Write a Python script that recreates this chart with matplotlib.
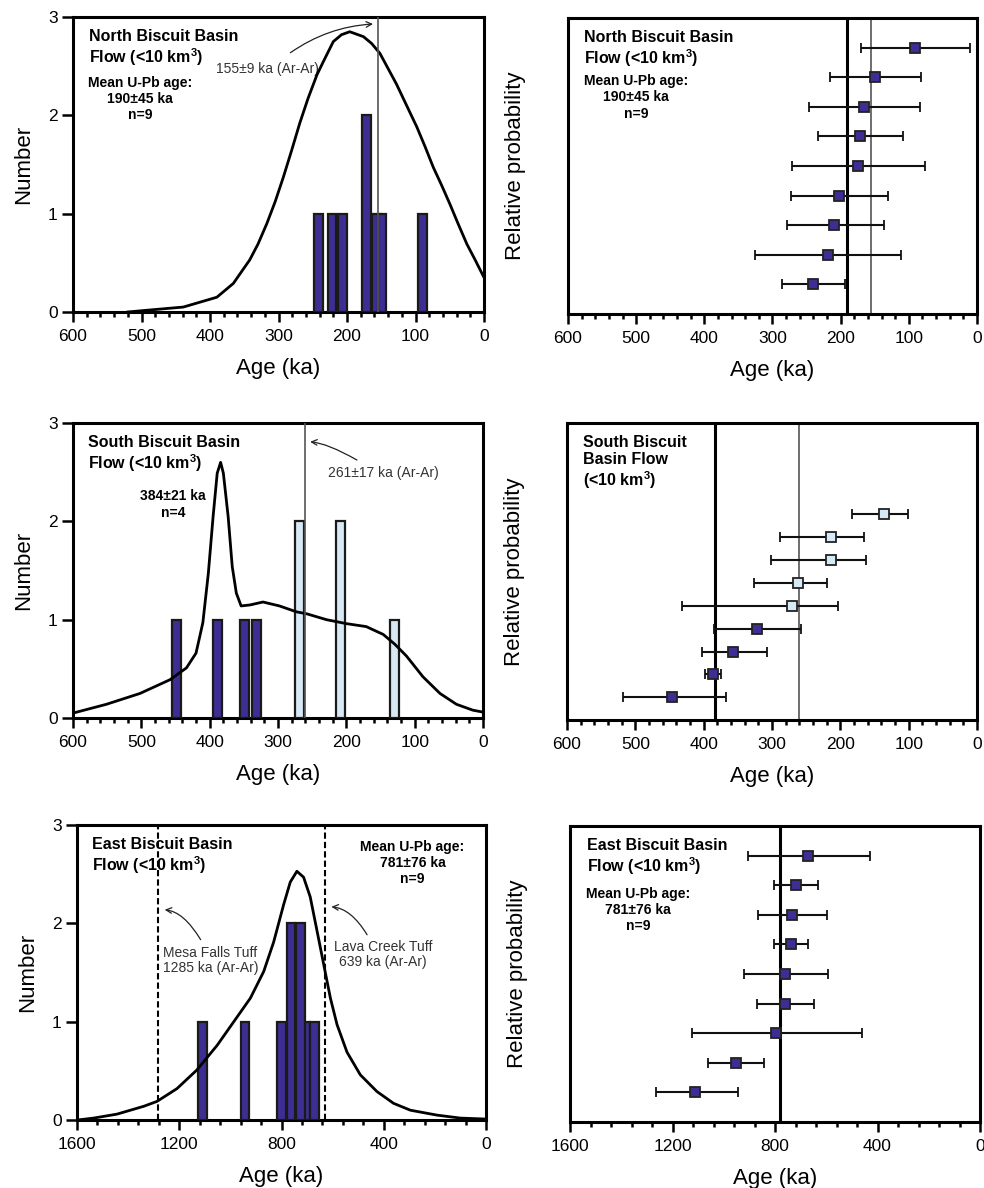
import numpy as np
import matplotlib
matplotlib.use('Agg')
import matplotlib.pyplot as plt
from matplotlib.ticker import MultipleLocator

plt.rcParams['font.family'] = ['Liberation Sans', 'DejaVu Sans']
plt.rcParams['mathtext.fontset'] = 'custom'
plt.rcParams['mathtext.rm'] = 'Liberation Sans'
plt.rcParams['mathtext.bf'] = 'Liberation Sans:bold'

# ---- North Biscuit Basin ----
north_bar_age = [242, 222, 206, 171, 157, 149, 90]
north_bar_n   = [1, 1, 1, 2, 1, 1, 1]
north_curve_age = [520, 488, 439, 390, 366, 342, 330, 317, 305, 293, 281, 269, 257, 244, 235, 220, 208,
                   196, 176, 164, 152, 128, 113, 98, 86, 74, 62, 50, 38, 25, 13, 0]
north_curve_val = [0.0, 0.02, 0.05, 0.15, 0.29, 0.53, 0.69, 0.90, 1.12, 1.37, 1.64, 1.92, 2.17, 2.41, 2.54,
                   2.75, 2.82, 2.85, 2.80, 2.73, 2.63, 2.32, 2.10, 1.88, 1.68, 1.47, 1.29, 1.10, 0.90,
                   0.69, 0.53, 0.35]
# ages top -> bottom in the right panel
north_age = [91, 150, 166, 172, 175, 202, 210, 218, 241]
north_lo  = [170, 216, 246, 233, 272, 273, 279, 326, 286]   # older end
north_hi  = [11, 82, 84, 108, 76, 130, 136, 111, 194]       # younger end
north_mean = 190
north_arar = 155

# ---- South Biscuit Basin ----
south_bar_age  = [449, 389, 349, 331]
south_bar_n    = [1, 1, 1, 1]
south_bar2_age = [269, 208, 129]
south_bar2_n   = [2, 2, 1]
south_curve_age = [600, 551, 502, 458, 434, 420, 410, 402, 395, 389, 384, 380, 373, 367, 361, 354,
                   341, 322, 298, 273, 258, 229, 200, 171, 146, 129, 112, 88, 63, 39, 15, 0]
south_curve_val = [0.05, 0.14, 0.25, 0.39, 0.51, 0.66, 0.97, 1.47, 2.05, 2.49, 2.60, 2.49, 2.05, 1.54,
                   1.27, 1.14, 1.15, 1.18, 1.14, 1.08, 1.06, 1.00, 0.96, 0.93, 0.85, 0.75, 0.63, 0.42,
                   0.25, 0.14, 0.08, 0.06]
south_age = [136, 213, 213, 262, 271, 322, 357, 386, 446]
south_lo  = [183, 288, 301, 326, 431, 385, 403, 398, 518]
south_hi  = [101, 166, 163, 219, 204, 258, 308, 375, 368]
south_light = [True, True, True, True, True, False, False, False, False]
south_mean = 384
south_arar = 260

# ---- East Biscuit Basin ----
east_bar_age = [1108, 943, 800, 707, 670, 763, 725]
east_bar_n   = [1, 1, 1, 1, 1, 2, 2]
east_curve_age = [1600, 1535, 1444, 1339, 1287, 1209, 1131, 1052, 987, 922, 870, 831, 792, 766, 740,
                  714, 688, 661, 635, 609, 583, 544, 492, 427, 362, 296, 192, 101, 0]
east_curve_val = [0.0, 0.02, 0.06, 0.14, 0.19, 0.32, 0.51, 0.76, 1.00, 1.24, 1.51, 1.81, 2.19, 2.42, 2.53,
                  2.47, 2.27, 1.92, 1.58, 1.24, 0.97, 0.69, 0.46, 0.29, 0.17, 0.10, 0.05, 0.02, 0.01]
east_age = [670, 720, 735, 739, 762, 762, 798, 952, 1111]
east_lo  = [907, 805, 867, 805, 921, 870, 1125, 1063, 1266]
east_hi  = [430, 631, 596, 670, 592, 648, 461, 842, 943]
east_mean = 781
mesa_falls = 1285
lava_creek = 630

DARK = '#3d2e94'
LIGHT = '#d8e9f6'
EDGE = '#1a1a1a'
KM3 = r'(<10 km$^{\mathbf{3}}$)'


def style_axis(ax, xmax, major, minor, yticks=True):
    ax.set_xlim(xmax, 0)
    for s in ax.spines.values():
        s.set_linewidth(2.2)
    ax.xaxis.set_major_locator(MultipleLocator(major))
    ax.xaxis.set_minor_locator(MultipleLocator(minor))
    ax.tick_params(axis='x', which='major', direction='out', length=7, width=1.8,
                   labelsize=12.5, pad=5)
    ax.tick_params(axis='x', which='minor', direction='out', length=3.5, width=1.8)
    ax.tick_params(top=False, right=False)
    if yticks:
        ax.yaxis.set_major_locator(MultipleLocator(1))
        ax.tick_params(axis='y', which='major', direction='out', length=8, width=1.8,
                       labelsize=12.5, pad=3)
        ax.set_ylabel('Number', fontsize=16, labelpad=10)
    else:
        ax.set_yticks([])
        ax.set_ylabel('Relative probability', fontsize=16, labelpad=30)
    ax.set_xlabel('Age (ka)', fontsize=16, labelpad=10)


def draw_errors(ax, ages, lo, hi, colors, ymax):
    ypos = np.arange(len(ages), 0, -1)
    for yy, a, l, h, c in zip(ypos, ages, lo, hi, colors):
        # eje x invertido: xerr = [lado joven, lado viejo]
        ax.errorbar(a, yy, xerr=[[a - h], [l - a]], fmt='s', color='black', ecolor='#111111',
                    elinewidth=1.5, capsize=3.4, capthick=1.5, markersize=6.5,
                    markerfacecolor=c, markeredgecolor='#222222', markeredgewidth=1.3, zorder=4)
    ax.set_ylim(0, ymax)


fig = plt.figure(figsize=(9.84, 11.88), dpi=100)

ax1 = fig.add_axes([0.0742, 0.7374, 0.4177, 0.2483])
ax2 = fig.add_axes([0.5772, 0.7357, 0.4157, 0.2492])
ax3 = fig.add_axes([0.0742, 0.3956, 0.4167, 0.2483])
ax4 = fig.add_axes([0.5762, 0.3939, 0.4167, 0.2500])
ax5 = fig.add_axes([0.0783, 0.0572, 0.4157, 0.2483])
ax6 = fig.add_axes([0.5793, 0.0556, 0.4167, 0.2492])

# ---- panel 1 ----
ax1.bar(north_bar_age, north_bar_n, width=13, color=DARK, edgecolor=EDGE, linewidth=1.6, zorder=3)
ax1.plot(north_curve_age, north_curve_val, color='black', lw=2, zorder=4)
ax1.axvline(north_arar, color='#555555', lw=1.2, zorder=5)
ax1.set_ylim(0, 3)
style_axis(ax1, 600, 100, 20)
ax1.text(0.039, 0.96, 'North Biscuit Basin\nFlow ' + KM3, transform=ax1.transAxes,
         fontsize=11.5, fontweight='bold', va='top', ha='left', linespacing=1.15)
ax1.text(0.163, 0.80, 'Mean U-Pb age:\n190±45 ka\nn=9', transform=ax1.transAxes,
         fontsize=10, fontweight='bold', va='top', ha='center', linespacing=1.2)
ax1.text(391, 2.47, '155±9 ka (Ar-Ar)', fontsize=10, color='#333333', va='center', ha='left')
ax1.annotate('', xy=(158, 2.93), xytext=(286, 2.62),
             arrowprops=dict(arrowstyle='->', lw=0.9, color='#222222',
                             connectionstyle='arc3,rad=-0.15'))

# ---- panel 2 ----
ax2.axvline(north_mean, color='black', lw=2.2, zorder=2)
ax2.axvline(north_arar, color='#555555', lw=1.2, zorder=2)
draw_errors(ax2, north_age, north_lo, north_hi, [DARK] * len(north_age), 10)
style_axis(ax2, 600, 100, 20, yticks=False)
ax2.text(0.039, 0.96, 'North Biscuit Basin\nFlow ' + KM3, transform=ax2.transAxes,
         fontsize=11.5, fontweight='bold', va='top', ha='left', linespacing=1.15)
ax2.text(0.166, 0.81, 'Mean U-Pb age:\n190±45 ka\nn=9', transform=ax2.transAxes,
         fontsize=10, fontweight='bold', va='top', ha='center', linespacing=1.2)

# ---- panel 3 ----
ax3.bar(south_bar_age, south_bar_n, width=13, color=DARK, edgecolor=EDGE, linewidth=1.6, zorder=3)
ax3.bar(south_bar2_age, south_bar2_n, width=13, color=LIGHT, edgecolor=EDGE, linewidth=1.6, zorder=3)
ax3.plot(south_curve_age, south_curve_val, color='black', lw=2, zorder=4)
ax3.axvline(south_arar, color='#555555', lw=1.2, zorder=5)
ax3.set_ylim(0, 3)
style_axis(ax3, 600, 100, 20)
ax3.text(0.037, 0.96, 'South Biscuit Basin\nFlow ' + KM3, transform=ax3.transAxes,
         fontsize=11.5, fontweight='bold', va='top', ha='left', linespacing=1.15)
ax3.text(0.244, 0.775, '384±21 ka\nn=4', transform=ax3.transAxes,
         fontsize=10, fontweight='bold', va='top', ha='center', linespacing=1.2)
ax3.text(227, 2.49, '261±17 ka (Ar-Ar)', fontsize=10, color='#333333', va='center', ha='left')
ax3.annotate('', xy=(257, 2.81), xytext=(181, 2.61),
             arrowprops=dict(arrowstyle='->', lw=0.9, color='#222222',
                             connectionstyle='angle3,angleA=150,angleB=0'))

# ---- panel 4 ----
ax4.axvline(south_mean, color='black', lw=2.2, zorder=2)
ax4.axvline(south_arar, color='#555555', lw=1.2, zorder=2)
draw_errors(ax4, south_age, south_lo, south_hi,
            [LIGHT if lt else DARK for lt in south_light], 13)
style_axis(ax4, 600, 100, 20, yticks=False)
ax4.text(0.039, 0.96, 'South Biscuit\nBasin Flow\n' + KM3, transform=ax4.transAxes,
         fontsize=11.5, fontweight='bold', va='top', ha='left', linespacing=1.15)

# ---- panel 5 ----
ax5.bar(east_bar_age, east_bar_n, width=34, color=DARK, edgecolor=EDGE, linewidth=1.6, zorder=3)
ax5.plot(east_curve_age, east_curve_val, color='black', lw=2, zorder=4)
ax5.axvline(mesa_falls, color='black', lw=1.5, ls=(0, (3, 1.5)), zorder=5)
ax5.axvline(lava_creek, color='black', lw=1.5, ls=(0, (3, 1.5)), zorder=5)
ax5.set_ylim(0, 3)
style_axis(ax5, 1600, 400, 80)
ax5.text(0.037, 0.96, 'East Biscuit Basin\nFlow ' + KM3, transform=ax5.transAxes,
         fontsize=11.5, fontweight='bold', va='top', ha='left', linespacing=1.15)
ax5.text(0.82, 0.95, 'Mean U-Pb age:\n781±76 ka\nn=9', transform=ax5.transAxes,
         fontsize=10, fontweight='bold', va='top', ha='center', linespacing=1.2)
ax5.text(1264, 1.62, 'Mesa Falls Tuff\n1285 ka (Ar-Ar)', fontsize=10, color='#333333',
         va='center', ha='left', linespacing=1.1)
ax5.text(403, 1.68, 'Lava Creek Tuff\n639 ka (Ar-Ar)', fontsize=10, color='#333333',
         va='center', ha='center', linespacing=1.1)
ax5.annotate('', xy=(1268, 2.14), xytext=(1111, 1.81),
             arrowprops=dict(arrowstyle='->', lw=0.9, color='#222222',
                             connectionstyle='angle3,angleA=120,angleB=0'))
ax5.annotate('', xy=(616, 2.17), xytext=(460, 1.86),
             arrowprops=dict(arrowstyle='->', lw=0.9, color='#222222',
                             connectionstyle='angle3,angleA=120,angleB=0'))

# ---- panel 6 ----
ax6.axvline(east_mean, color='black', lw=2.2, zorder=2)
draw_errors(ax6, east_age, east_lo, east_hi, [DARK] * len(east_age), 10)
style_axis(ax6, 1600, 400, 80, yticks=False)
ax6.text(0.041, 0.96, 'East Biscuit Basin\nFlow ' + KM3, transform=ax6.transAxes,
         fontsize=11.5, fontweight='bold', va='top', ha='left', linespacing=1.15)
ax6.text(0.166, 0.795, 'Mean U-Pb age:\n781±76 ka\nn=9', transform=ax6.transAxes,
         fontsize=10, fontweight='bold', va='top', ha='center', linespacing=1.2)

fig.savefig('out.png', dpi=100, facecolor='white')
